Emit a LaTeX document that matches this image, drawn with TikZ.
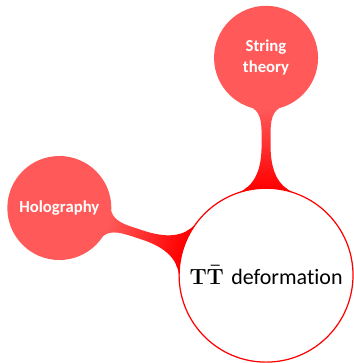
\documentclass[tikz,border=0pt,11pt]{standalone}
\usepackage[no-math]{fontspec}
\setmainfont[Ligatures=NoCommon]{Carlito}
\setsansfont[Ligatures=NoCommon]{Carlito}
\usetikzlibrary{mindmap}
\definecolor{RootClr}{rgb}{1,0,0}
\definecolor{LeafClr}{rgb}{1,0.35,0.35}

\begin{document}
\begin{tikzpicture}[mindmap,concept color=RootClr,
  every node/.style={concept,execute at begin node=\hskip0pt},
  root concept/.append style={fill=white,draw=RootClr,
    line width=0.8pt,minimum size=4cm,text width=3.9cm,font=\Large,text=black},
  level 1 concept/.append style={level distance=5cm,minimum size=2.35cm,
    text width=2cm,font=\normalsize\sffamily\bfseries,text=white}]
\useasboundingbox (-6.12,-2.02) rectangle (2.0,6.33);

\node[root concept] (ttbar) {$\mathbf{T\bar{T}}$ deformation}
  child[grow=90,concept color=LeafClr] {node (string) {String theory}}
  child[grow=162,concept color=LeafClr] {node (holo) {Holography}};

\end{tikzpicture}
\end{document}
